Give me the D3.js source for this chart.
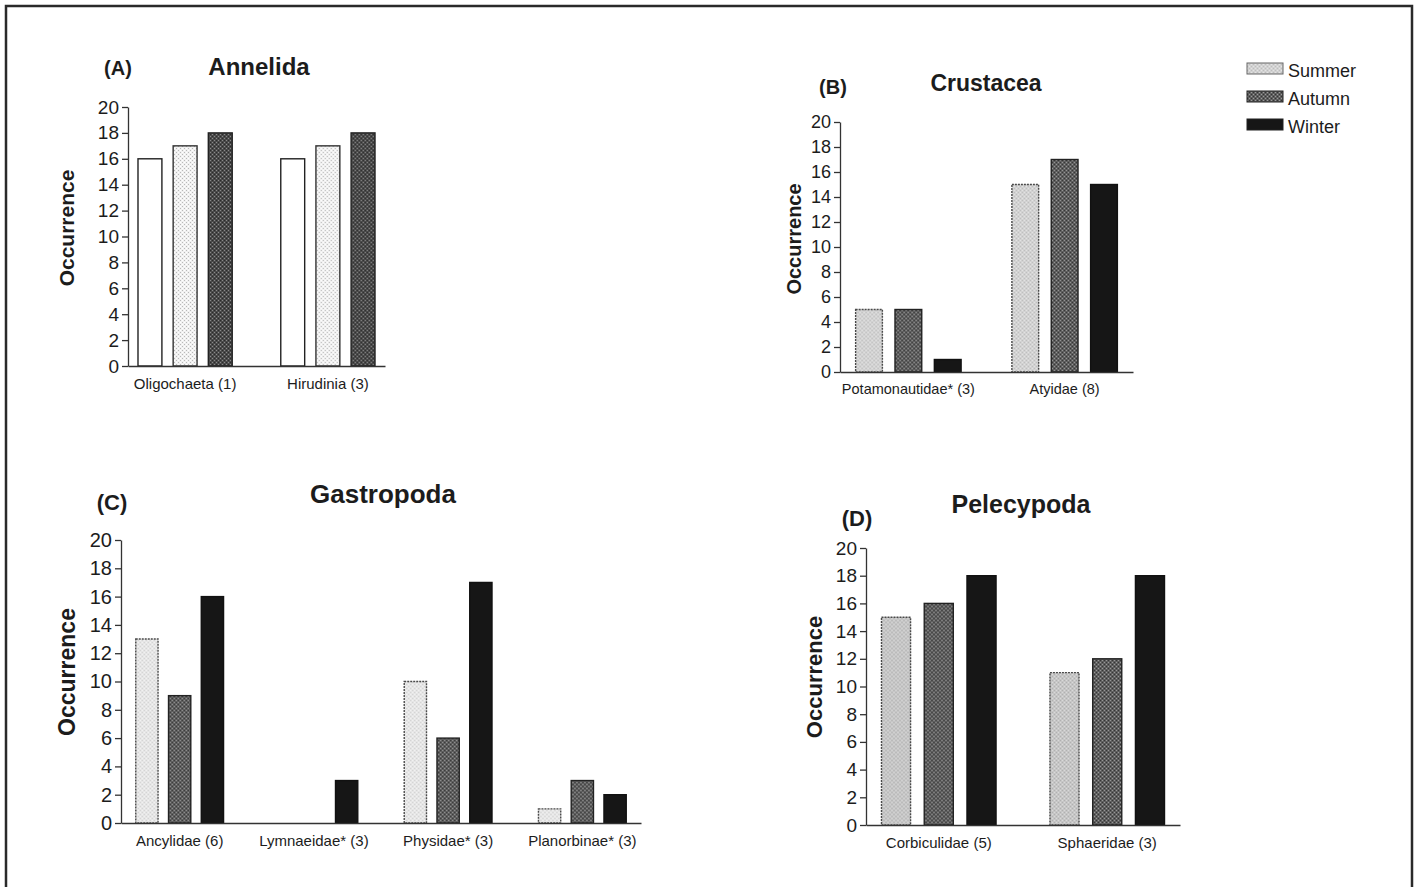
<!DOCTYPE html>
<html>
<head>
<meta charset="utf-8">
<script src="https://cdn.jsdelivr.net/npm/d3@7"></script>
<style>
  body { margin: 0; background: #fff; }
  text { font-family: "Liberation Sans", Arial, sans-serif; fill: #1c1c1c; }
</style>
</head>
<body>
<script>
// SVG size
var width = 1420,
    height = 887;

// Data
var seasons = ["Summer", "Autumn", "Winter"];
var yTicks = [0, 2, 4, 6, 8, 10, 12, 14, 16, 18, 20];

var annelidaTaxa = ["Oligochaeta (1)", "Hirudinia (3)"];
var annelidaSummer = [16, 16];
var annelidaAutumn = [17, 17];
var annelidaWinter = [18, 18];

var crustaceaTaxa = ["Potamonautidae* (3)", "Atyidae (8)"];
var crustaceaSummer = [5, 15];
var crustaceaAutumn = [5, 17];
var crustaceaWinter = [1, 15];

var gastropodaTaxa = ["Ancylidae (6)", "Lymnaeidae* (3)", "Physidae* (3)", "Planorbinae* (3)"];
var gastropodaSummer = [13, 0, 10, 1];
var gastropodaAutumn = [9, 0, 6, 3];
var gastropodaWinter = [16, 3, 17, 2];

var pelecypodaTaxa = ["Corbiculidae (5)", "Sphaeridae (3)"];
var pelecypodaSummer = [15, 11];
var pelecypodaAutumn = [16, 12];
var pelecypodaWinter = [18, 18];

var svg = d3.select("body").append("svg")
    .attr("width", width)
    .attr("height", height);

// Fill textures (stippled greys like the scanned print)
var defs = svg.append("defs");

function stipple(id, base, dotA, dotB) {
  var p = defs.append("pattern")
      .attr("id", id)
      .attr("patternUnits", "userSpaceOnUse")
      .attr("width", 4).attr("height", 4);
  p.append("rect").attr("width", 4).attr("height", 4).attr("fill", base);
  [[0, 0], [2, 2]].forEach(function(c) {
    p.append("rect").attr("x", c[0]).attr("y", c[1]).attr("width", 1).attr("height", 1).attr("fill", dotA);
  });
  [[2, 0], [0, 2]].forEach(function(c) {
    p.append("rect").attr("x", c[0]).attr("y", c[1]).attr("width", 1).attr("height", 1).attr("fill", dotB);
  });
}

stipple("sumB", "#d2d2d2", "#e4e4e4", "#bdbdbd");
stipple("sumC", "#e6e6e6", "#f4f4f4", "#d0d0d0");
stipple("sumD", "#c6c6c6", "#dadada", "#b0b0b0");
stipple("aut", "#5e5e5e", "#9a9a9a", "#333333");
stipple("lightA", "#f1f1f1", "#ffffff", "#b9b9b9");
stipple("darkA", "#4a4a4a", "#8a8a8a", "#2a2a2a");

var seasonStyle = {
  Summer: { stroke: "#4a4a4a", dash: "2,1" },
  Autumn: { fill: "url(#aut)", stroke: "#222", dash: null },
  Winter: { fill: "#161616", stroke: "#111", dash: null }
};

function drawPanel(p) {
  var g = svg.append("g");

  var y = d3.scaleLinear()
      .domain([0, 20])
      .range([p.y0, p.y20]);

  var x0 = d3.scaleBand()
      .domain(p.taxa)
      .range([p.xl, p.xr])
      .paddingInner(p.pi)
      .paddingOuter(p.po);

  var x1 = d3.scaleBand()
      .domain(seasons)
      .range([0, x0.bandwidth()])
      .paddingInner(0.32);

  var rows = p.taxa.map(function(t, i) {
    return { taxon: t, values: [p.summer[i], p.autumn[i], p.winter[i]] };
  });

  var groups = g.selectAll(".grp")
      .data(rows)
      .enter().append("g")
      .attr("transform", function(d) { return "translate(" + x0(d.taxon) + ",0)"; });

  groups.selectAll("rect")
      .data(function(d) {
        return d.values.map(function(v, k) { return { season: seasons[k], value: v, k: k }; });
      })
      .enter().append("rect")
      .filter(function(d) { return d.value > 0; })
      .attr("x", function(d) { return x1(d.season); })
      .attr("width", x1.bandwidth())
      .attr("y", function(d) { return y(d.value); })
      .attr("height", function(d) { return y(0) - y(d.value); })
      .attr("fill", function(d) {
        if (p.fills) return p.fills[d.k];
        return d.season === "Summer" ? p.summerFill : seasonStyle[d.season].fill;
      })
      .attr("stroke", function(d) {
        if (p.strokes) return p.strokes[d.k];
        return seasonStyle[d.season].stroke;
      })
      .attr("stroke-width", 1.4)
      .attr("stroke-dasharray", function(d) {
        if (p.fills) return null;
        return seasonStyle[d.season].dash;
      });

  // Axes
  var yAxis = d3.axisLeft(y)
      .tickValues(yTicks)
      .tickSize(6)
      .tickSizeOuter(0)
      .tickPadding(3);

  var xAxis = d3.axisBottom(x0)
      .tickSize(0)
      .tickSizeOuter(0)
      .tickPadding(12);

  var ya = g.append("g")
      .attr("transform", "translate(" + p.xl + ",0)")
      .call(yAxis);
  ya.selectAll("text").style("font-size", p.tickSize + "px");

  var xa = g.append("g")
      .attr("transform", "translate(0," + p.y0 + ")")
      .call(xAxis);
  xa.selectAll("text").style("font-size", p.catSize + "px");

  g.selectAll(".domain, .tick line")
      .attr("stroke", "#333")
      .attr("stroke-width", 1.3);
  g.selectAll(".tick text").attr("fill", "#1c1c1c");

  // Y label
  g.append("text")
      .attr("transform", "translate(" + p.labelX + "," + p.labelY + ") rotate(-90)")
      .attr("text-anchor", "middle")
      .attr("dy", "0.36em")
      .style("font-size", p.labelSize + "px")
      .style("font-weight", "bold")
      .text("Occurrence");

  // Panel letter and title
  g.append("text")
      .attr("x", p.letterX).attr("y", p.letterY)
      .attr("text-anchor", "middle")
      .style("font-size", p.letterSize + "px")
      .style("font-weight", "bold")
      .text(p.letter);

  g.append("text")
      .attr("x", p.titleX).attr("y", p.titleY)
      .attr("text-anchor", "middle")
      .style("font-size", p.titleSize + "px")
      .style("font-weight", "bold")
      .text(p.title);
}

drawPanel({
  taxa: annelidaTaxa, summer: annelidaSummer, autumn: annelidaAutumn, winter: annelidaWinter,
  xl: 128, xr: 385, y0: 366, y20: 107, pi: 0.34, po: 0.07,
  fills: ["#ffffff", "url(#lightA)", "url(#darkA)"],
  strokes: ["#222", "#333", "#222"],
  tickSize: 19, catSize: 15, labelSize: 21, labelX: 66, labelY: 228,
  letter: "(A)", letterX: 118, letterY: 75, letterSize: 20,
  title: "Annelida", titleX: 259, titleY: 75, titleSize: 24
});

drawPanel({
  taxa: crustaceaTaxa, summer: crustaceaSummer, autumn: crustaceaAutumn, winter: crustaceaWinter,
  xl: 840, xr: 1133, y0: 372, y20: 122, pi: 0.325, po: 0.1,
  summerFill: "url(#sumB)",
  tickSize: 18, catSize: 14.5, labelSize: 20, labelX: 794, labelY: 239,
  letter: "(B)", letterX: 833, letterY: 94, letterSize: 20,
  title: "Crustacea", titleX: 986, titleY: 91, titleSize: 23
});

drawPanel({
  taxa: gastropodaTaxa, summer: gastropodaSummer, autumn: gastropodaAutumn, winter: gastropodaWinter,
  xl: 121, xr: 641, y0: 823, y20: 540, pi: 0.346, po: 0.11,
  summerFill: "url(#sumC)",
  tickSize: 20, catSize: 15, labelSize: 23, labelX: 67, labelY: 672,
  letter: "(C)", letterX: 112, letterY: 510, letterSize: 22,
  title: "Gastropoda", titleX: 383, titleY: 503, titleSize: 26
});

drawPanel({
  taxa: pelecypodaTaxa, summer: pelecypodaSummer, autumn: pelecypodaAutumn, winter: pelecypodaWinter,
  xl: 866, xr: 1180, y0: 825, y20: 548, pi: 0.32, po: 0.092,
  summerFill: "url(#sumD)",
  tickSize: 19, catSize: 15, labelSize: 22, labelX: 814, labelY: 677,
  letter: "(D)", letterX: 857, letterY: 526, letterSize: 22,
  title: "Pelecypoda", titleX: 1021, titleY: 513, titleSize: 25
});

// Legend
var legendFills = ["url(#sumB)", "url(#aut)", "#161616"];
var legendY = d3.scaleBand()
    .domain(seasons)
    .range([56, 140]);

var legend = svg.append("g")
    .selectAll("g")
    .data(seasons)
    .enter().append("g")
    .attr("transform", function(d) { return "translate(1247," + legendY(d) + ")"; });

legend.append("rect")
    .attr("y", 7)
    .attr("width", 36)
    .attr("height", 11)
    .attr("fill", function(d, i) { return legendFills[i]; })
    .attr("stroke", function(d, i) { return i === 0 ? "#666" : "#222"; })
    .attr("stroke-width", 1);

legend.append("text")
    .attr("x", 41)
    .attr("y", 21)
    .style("font-size", "18px")
    .text(function(d) { return d; });

// Frame around the figure (open at the bottom, as in the scan)
svg.append("path")
    .attr("d", "M6,887 L6,6 L1412,6 L1412,887")
    .attr("fill", "none")
    .attr("stroke", "#2a2a2a")
    .attr("stroke-width", 2.5);
</script>
</body>
</html>
